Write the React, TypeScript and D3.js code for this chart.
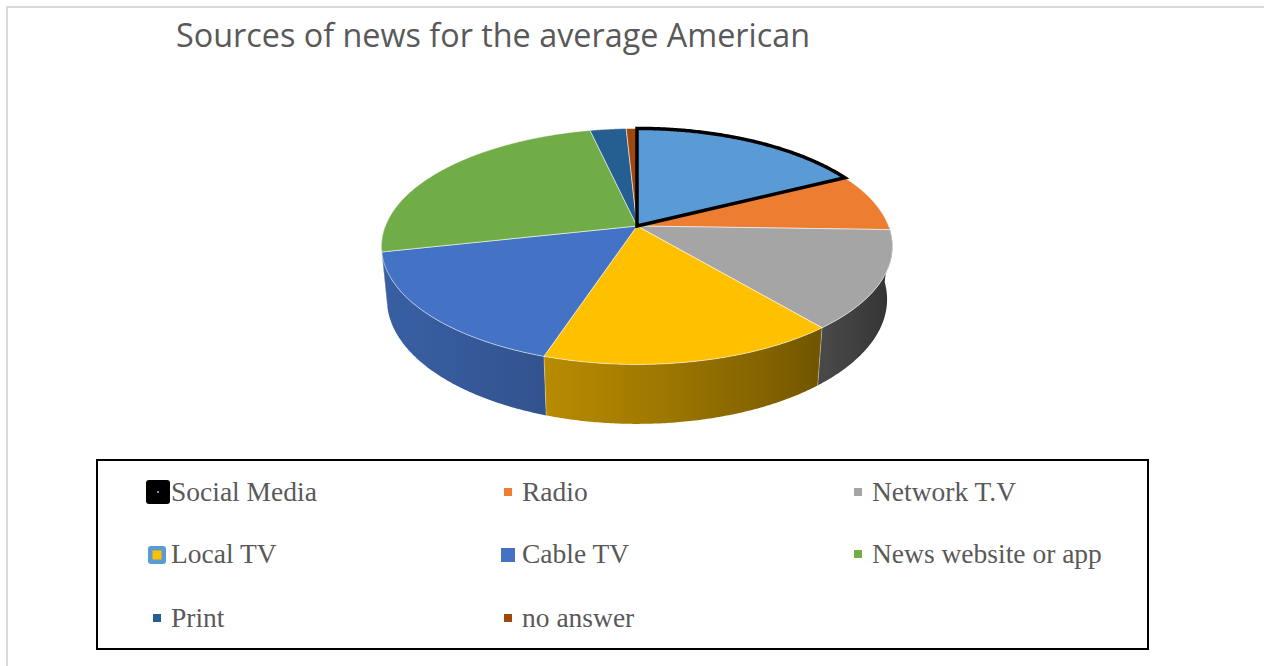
import React from "react";
import * as d3 from "d3";

const title = "Sources of news for the average American";
const categories = ["Social Media", "Radio", "Network T.V", "Local TV", "Cable TV", "News website or app", "Print", "no answer"];
const values = [17.5, 8, 13.5, 16, 16.5, 25, 2.7, 0.8];
const colors = ["#5B9BD5", "#ED7D31", "#A5A5A5", "#FFC000", "#4472C4", "#70AD47", "#255E91", "#9E480E"];

const W = 1264, H = 666;
// projection params
const S = 0.455, C = Math.sqrt(1 - S * S), DIST = 5.15, K = 1296, DEPTH = 0.238, CX = 637, CY = 226;
function proj(theta: number, r: number, z: number): [number, number] {
  const x = r * Math.sin(theta), y = -r * Math.cos(theta);
  const d = DIST - y * C - z * S;
  return [CX + (K * x) / d, CY + (K * (y * S - z * C)) / d];
}
function shade(col: string, theta: number) {
  const f = Math.max(0.25, Math.min(0.95, 0.53 + 0.3 * Math.cos(theta - (248 * Math.PI) / 180)));
  const c = d3.rgb(col);
  return d3.rgb(c.r * f, c.g * f, c.b * f).formatHex();
}

export default function App() {
  const pie = d3.pie<number>().sort(null).startAngle(0).endAngle(2 * Math.PI);
  const arcs = pie(values);
  const step = Math.PI / 360;
  const lo = Math.PI / 2, hi = (3 * Math.PI) / 2;

  const sides = arcs
    .map((a, i) => {
      const a0 = Math.max(a.startAngle, lo), a1 = Math.min(a.endAngle, hi);
      if (a1 <= a0) return null;
      const n = Math.max(2, Math.ceil((a1 - a0) / step));
      const topPts: [number, number][] = [];
      const botPts: [number, number][] = [];
      const stops: { x: number; c: string }[] = [];
      for (let j = 0; j <= n; j++) {
        const t = a0 + ((a1 - a0) * j) / n;
        topPts.push(proj(t, 1, 0));
        botPts.push(proj(t, 1, -DEPTH));
        if (j % 6 === 0 || j === n) stops.push({ x: proj(t, 1, 0)[0], c: shade(colors[i], t) });
      }
      const pts = topPts.concat(botPts.reverse());
      const xs = stops.map((s) => s.x);
      const xmin = Math.min(...xs), xmax = Math.max(...xs);
      const sorted = stops.slice().sort((p, q) => p.x - q.x);
      return {
        i,
        d: "M" + pts.map((p) => p.join(",")).join("L") + "Z",
        xmin,
        xmax,
        stops: sorted.map((s) => ({ off: xmax > xmin ? (s.x - xmin) / (xmax - xmin) : 0, c: s.c })),
        depth: Math.cos((a0 + a1) / 2),
      };
    })
    .filter((s) => s !== null) as any[];
  sides.sort((p, q) => q.depth - p.depth);

  const topPath = (a0: number, a1: number) => {
    const n = Math.max(2, Math.ceil((a1 - a0) / step));
    const pts: [number, number][] = [[CX, CY]];
    for (let j = 0; j <= n; j++) pts.push(proj(a0 + ((a1 - a0) * j) / n, 1, 0));
    return "M" + pts.map((p) => p.join(",")).join("L") + "Z";
  };

  const order = arcs.map((_, i) => i).filter((i) => i !== 0).concat([0]);

  const colX = [171, 522, 872];
  const rowY = [501, 563, 627];

  return (
    <div style={{ position: "absolute", left: 0, top: 0 }}>
      <svg width={W} height={H} style={{ display: "block" }}>
        <defs>
          {sides.map((s) => (
            <linearGradient key={"g" + s.i} id={"side" + s.i} gradientUnits="userSpaceOnUse" x1={s.xmin} y1={0} x2={s.xmax} y2={0}>
              {s.stops.map((st: any, k: number) => (
                <stop key={k} offset={st.off} stopColor={st.c} />
              ))}
            </linearGradient>
          ))}
        </defs>
        <rect x={0} y={0} width={W} height={H} fill="#fff" />
        <rect x={7} y={7} width={W + 20} height={H + 20} fill="none" stroke="#d9d9d9" strokeWidth={2} />
        <text x={176} y={47} fontFamily="'Open Sans', 'Noto Sans', sans-serif" fontSize={32} fill="#595959" textLength={634} lengthAdjust="spacingAndGlyphs">
          {title}
        </text>
        <g>
          {sides.map((s) => (
            <path key={"s" + s.i} d={s.d} fill={`url(#side${s.i})`} />
          ))}
          {arcs.map((a, i) => {
            const t = a.startAngle;
            if (Math.cos(t) > -0.15) return null;
            const p0 = proj(t, 1, 0), p1 = proj(t, 1, -DEPTH);
            return <line key={"b" + i} x1={p0[0]} y1={p0[1]} x2={p1[0]} y2={p1[1]} stroke="#fff" strokeOpacity={0.35} strokeWidth={1} />;
          })}
          {order.map((i) => {
            const a = arcs[i];
            const isSM = i === 0;
            return (
              <path
                key={"t" + i}
                d={topPath(a.startAngle, a.endAngle)}
                fill={colors[i]}
                stroke={isSM ? "#000" : "#ffffff"}
                strokeOpacity={isSM ? 1 : 0.55}
                strokeWidth={isSM ? 3.5 : 1}
                strokeLinejoin="miter"
              />
            );
          })}
        </g>
        <rect x={97} y={460} width={1051} height={189} fill="none" stroke="#000" strokeWidth={2} />
        {categories.map((c, i) => {
          const col = i % 3, row = Math.floor(i / 3);
          const tx = colX[col], ty = rowY[row];
          let marker;
          if (i === 0) {
            marker = (
              <g>
                <rect x={tx - 25} y={ty - 21} width={24} height={24} rx={3} fill="#000" />
                <rect x={tx - 14} y={ty - 10} width={2} height={2} fill={colors[0]} />
              </g>
            );
          } else if (i === 3) {
            marker = (
              <g>
                <rect x={tx - 23} y={ty - 17} width={18} height={18} rx={3} fill={colors[0]} />
                <rect x={tx - 18.5} y={ty - 12.5} width={9} height={9} fill={colors[3]} />
              </g>
            );
          } else if (i === 4) {
            marker = <rect x={tx - 21} y={ty - 15} width={14} height={14} fill={colors[4]} />;
          } else {
            marker = <rect x={tx - 18} y={ty - 13} width={8} height={8} fill={colors[i]} />;
          }
          return (
            <g key={"l" + i}>
              {marker}
              <text x={tx} y={ty} fontFamily="'Liberation Serif', 'Times New Roman', serif" fontSize={27.5} fill="#595959">
                {c}
              </text>
            </g>
          );
        })}
      </svg>
    </div>
  );
}
